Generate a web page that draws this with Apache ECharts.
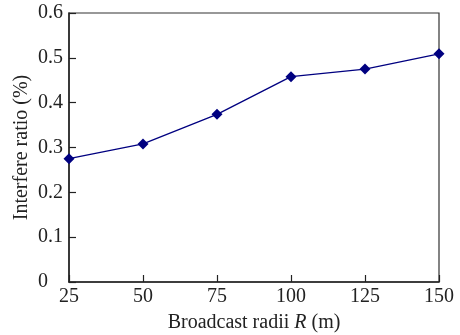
<!DOCTYPE html>
<html>
<head>
<meta charset="utf-8">
<script src="https://cdn.jsdelivr.net/npm/echarts@6/dist/echarts.min.js"></script>
<style>
  html, body { margin: 0; padding: 0; background: #fff; }
  #chart { width: 460px; height: 335px; }
</style>
</head>
<body>
<div id="chart"></div>
<script>
// broadcast radius (m) and interfere ratio (%)
var radii = [25, 50, 75, 100, 125, 150];
var ratio = [0.275, 0.308, 0.374, 0.458, 0.475, 0.509];
var yTicks = [0, 0.1, 0.2, 0.3, 0.4, 0.5, 0.6];

var chart = echarts.init(document.getElementById('chart'));
var font = 'Liberation Serif';

var points = [];
for (var i = 0; i < radii.length; i++) {
  points.push([radii[i], ratio[i]]);
}

chart.setOption({
  animation: false,
  textStyle: { fontFamily: font },
  grid: {
    left: 69, right: 21, top: 13, bottom: 53,
    outerBoundsMode: 'none',
    containLabel: false,
    show: true, borderColor: '#333', borderWidth: 1.2
  },
  xAxis: {
    type: 'value',
    min: 25, max: 150, interval: 25,
    name: 'Broadcast radii {i|R} (m)',
    nameLocation: 'middle',
    nameGap: 31,
    nameTextStyle: {
      color: '#222', fontSize: 20, fontFamily: font,
      rich: { i: { fontStyle: 'italic', fontSize: 20, fontFamily: font, color: '#222' } }
    },
    axisLine: { lineStyle: { color: '#222', width: 1.5 } },
    axisTick: { inside: true, length: 7, lineStyle: { color: '#222', width: 1.2 } },
    axisLabel: { color: '#222', fontSize: 20, margin: 5 },
    splitLine: { show: false }
  },
  yAxis: {
    type: 'value',
    min: yTicks[0], max: yTicks[yTicks.length - 1], interval: 0.1,
    name: 'Interfere ratio (%)',
    nameLocation: 'middle',
    nameGap: 37,
    nameMoveOverlap: false,
    nameTextStyle: { color: '#222', fontSize: 20, fontFamily: font },
    axisLine: { lineStyle: { color: '#222', width: 1.5 } },
    axisTick: { inside: true, length: 7, lineStyle: { color: '#222', width: 1.2 } },
    axisLabel: {
      color: '#222', fontSize: 20, align: 'left', margin: 31,
      formatter: function (v) { return v === 0 ? '0' : v.toFixed(1); }
    },
    splitLine: { show: false }
  },
  series: [{
    type: 'line',
    data: points,
    symbol: 'diamond',
    symbolSize: 11,
    lineStyle: { color: '#000080', width: 1.3 },
    itemStyle: { color: '#000080' }
  }]
});
</script>
</body>
</html>
